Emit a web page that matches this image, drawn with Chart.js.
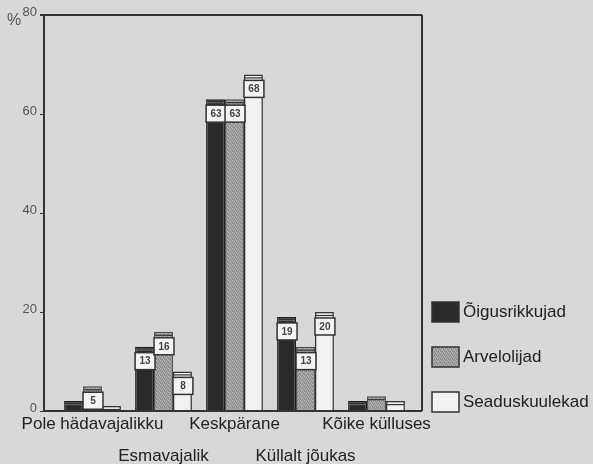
<!DOCTYPE html>
<html>
<head>
<meta charset="utf-8">
<script src="https://cdn.jsdelivr.net/npm/chart.js@4/dist/chart.umd.min.js"></script>
<style>
html,body{margin:0;padding:0;background:#d9d7d7;}
canvas{display:block;}
</style>
</head>
<body>
<canvas id="c" width="593" height="464"></canvas>
<script>
const categories = ['Pole hädavajalikku','Esmavajalik','Keskpärane','Küllalt jõukas','Kõike külluses'];
const seriesNames = ['Õigusrikkujad','Arvelolijad','Seaduskuulekad'];
const oigusrikkujad = [2, 13, 63, 19, 2];
const arvelolijad = [5, 16, 63, 13, 3];
const seaduskuulekad = [1, 8, 68, 20, 2];
const yTicks = [0, 20, 40, 60, 80];

const FONT = '"Liberation Sans", Arial, Helvetica, sans-serif';

// stippled grey pattern
function makePattern(){
  const p = document.createElement('canvas');
  p.width = 4; p.height = 4;
  const g = p.getContext('2d');
  g.fillStyle = '#979797'; g.fillRect(0,0,4,4);
  g.fillStyle = '#bdbdbd';
  g.fillRect(0,0,1,1); g.fillRect(2,1,1,1); g.fillRect(1,2,1,1); g.fillRect(3,3,1,1);
  g.fillStyle = '#828282';
  g.fillRect(2,3,1,1); g.fillRect(0,2,1,1);
  return document.getElementById('c').getContext('2d').createPattern(p,'repeat');
}
const greyPattern = makePattern();

const fills = ['#2a2a2a', greyPattern, '#f1f1f1'];
const borders = ['#1e1e1e', '#4a4a4a', '#333333'];
const values = [oigusrikkujad, arvelolijad, seaduskuulekad];

const xLabels = categories.map((c,i) => i % 2 ? ['', c] : [c]);

const framePlugin = {
  id: 'frame',
  afterDraw(chart){
    const ctx = chart.ctx;
    const y = chart.scales.y;
    const top = y.getPixelForValue(80);
    const bot = y.getPixelForValue(0);
    const axX = 44, rightX = 422;
    ctx.save();
    ctx.strokeStyle = '#333';
    ctx.lineWidth = 2;
    ctx.beginPath();
    ctx.moveTo(40, top); ctx.lineTo(rightX, top);
    ctx.moveTo(axX, top); ctx.lineTo(axX, bot);
    ctx.moveTo(axX, bot); ctx.lineTo(rightX, bot);
    ctx.moveTo(rightX, top); ctx.lineTo(rightX, bot);
    ctx.stroke();
    ctx.lineWidth = 1.2;
    ctx.beginPath();
    yTicks.forEach(v => { const py = Math.round(y.getPixelForValue(v)) + 0.5; ctx.moveTo(40, py); ctx.lineTo(axX, py); });
    ctx.stroke();
    // % sign
    ctx.fillStyle = '#555';
    ctx.font = '16px ' + FONT;
    ctx.textAlign = 'left'; ctx.textBaseline = 'middle';
    ctx.fillText('%', 7, 21);
    // legend
    const lx = 432, ly = [312, 357, 402];
    chart.data.datasets.forEach((ds, i) => {
      const cy = ly[i];
      ctx.fillStyle = fills[i];
      ctx.fillRect(lx, cy - 10, 27, 20);
      ctx.strokeStyle = '#333'; ctx.lineWidth = 1.5;
      ctx.strokeRect(lx, cy - 10, 27, 20);
      ctx.fillStyle = '#222';
      ctx.font = '17px ' + FONT;
      ctx.textAlign = 'left'; ctx.textBaseline = 'middle';
      ctx.fillText(ds.label, lx + 31, cy);
    });
    ctx.restore();
  },
  afterDatasetsDraw(chart){
    const ctx = chart.ctx;
    ctx.save();
    chart.data.datasets.forEach((ds, di) => {
      const meta = chart.getDatasetMeta(di);
      meta.data.forEach((bar, i) => {
        const v = ds.data[i];
        const w = bar.width;
        const l = bar.x - w/2, r = bar.x + w/2;
        ctx.strokeStyle = di === 0 ? '#666' : '#333';
        ctx.lineWidth = 1.2;
        ctx.beginPath();
        ctx.moveTo(l + 1, bar.y + 3.5); ctx.lineTo(r - 1, bar.y + 3.5);
        ctx.stroke();
        if (v >= 5) {
          const by = bar.y + 6, bh = 17;
          ctx.fillStyle = '#f3f3f3';
          ctx.fillRect(l, by, w + 1, bh);
          ctx.strokeStyle = '#333'; ctx.lineWidth = 1.5;
          ctx.strokeRect(l, by, w + 1, bh);
          ctx.fillStyle = '#444';
          ctx.font = 'bold 10px ' + FONT;
          ctx.textAlign = 'center'; ctx.textBaseline = 'middle';
          ctx.fillText(String(v), bar.x + 0.5, by + bh/2 + 0.5);
        }
      });
    });
    ctx.restore();
  }
};

new Chart(document.getElementById('c'), {
  type: 'bar',
  data: {
    labels: xLabels,
    datasets: seriesNames.map((n, i) => ({
      label: n,
      data: values[i],
      backgroundColor: fills[i],
      borderColor: borders[i],
      borderWidth: 1.5,
      categoryPercentage: 0.8,
      barPercentage: 1.0
    }))
  },
  options: {
    responsive: false,
    animation: false,
    devicePixelRatio: 1,
    layout: { padding: { top: 15, right: 181, left: 0, bottom: 0 } },
    plugins: { legend: { display: false }, tooltip: { enabled: false } },
    scales: {
      x: {
        grid: { display: false },
        border: { display: false },
        ticks: {
          color: '#222',
          font: { family: FONT, size: 17, lineHeight: 32/17 },
          padding: -11,
          autoSkip: false,
          maxRotation: 0,
          minRotation: 0
        },
        afterFit(s){ s.height = 53; }
      },
      y: {
        min: 0, max: 80,
        grid: { display: true, drawOnChartArea: false, drawTicks: true, tickLength: 17, tickColor: 'rgba(0,0,0,0)' },
        border: { display: false },
        ticks: {
          stepSize: 20,
          color: '#555',
          font: { family: FONT, size: 13 },
          padding: 3,
          labelOffset: -3
        },
        afterFit(s){ s.width = 57; }
      }
    }
  },
  plugins: [framePlugin]
});
</script>
</body>
</html>
